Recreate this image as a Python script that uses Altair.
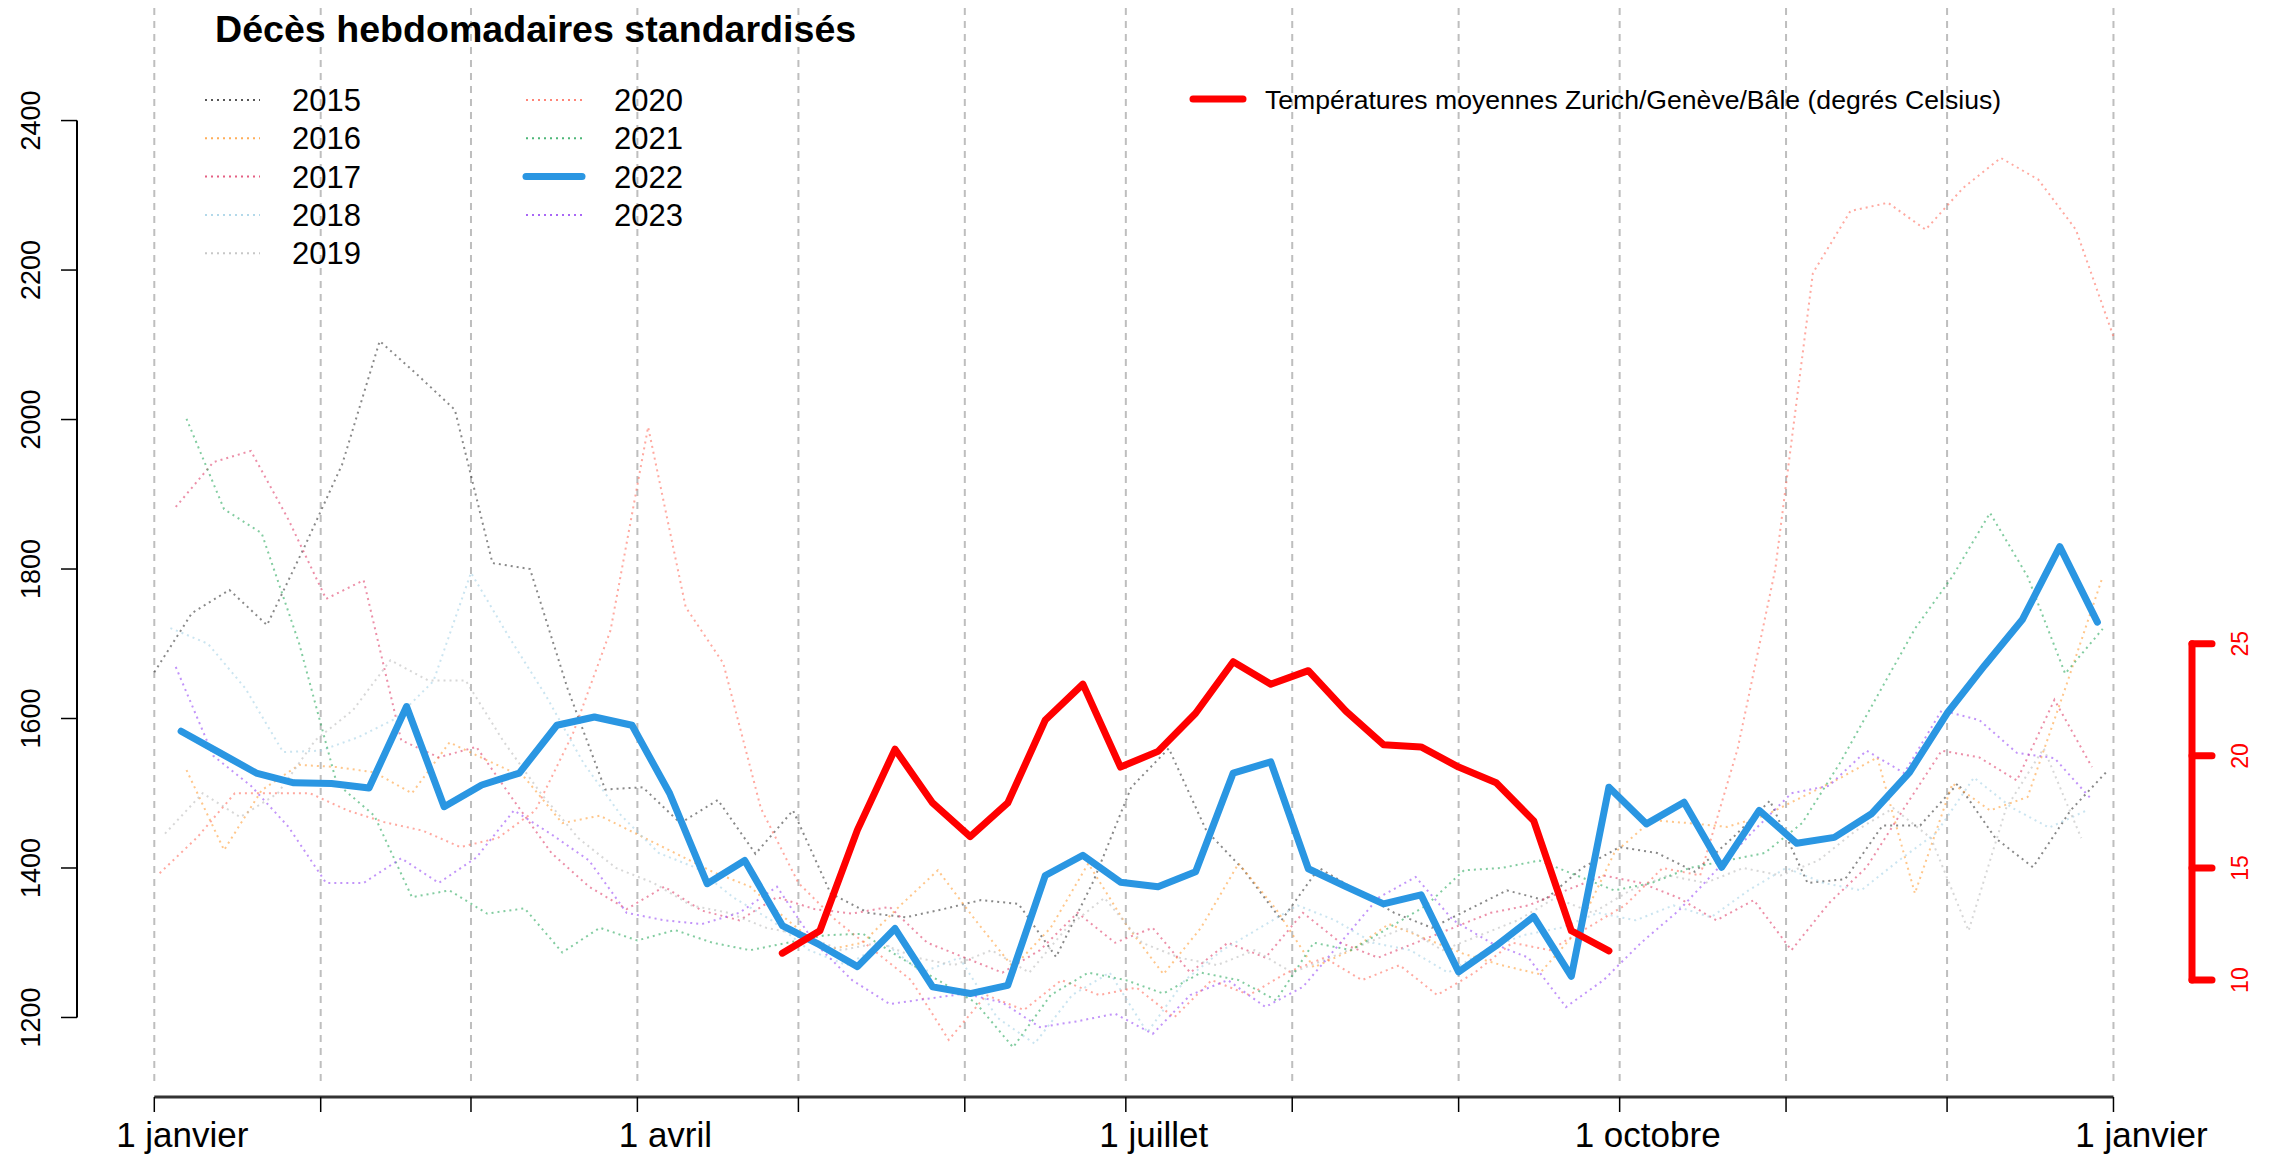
import altair as alt
import pandas as pd

FONT = "Liberation Sans"

# ---------------- data ----------------
YEARS = [2015, 2016, 2017, 2018, 2019, 2020, 2021, 2022, 2023]
FIRST_DAY = [0, 6, 4, 3, 2, 1, 6, 5, 4]          # day of year of week 1 (Thursday)
COLORS = ["#3a3a3a", "#ffa03c", "#e0456e", "#a6d2e6", "#bdbdbd",
          "#ff7060", "#2eaa60", "#2a96e2", "#9a4cf5"]

D2015 = [1662, 1741, 1772, 1725, 1830, 1940, 2105, 2060, 2013, 1808, 1800, 1640, 1505,
         1508, 1460, 1491, 1419, 1477, 1366, 1340, 1334, 1345, 1357, 1352, 1281, 1383,
         1508, 1560, 1450, 1397, 1330, 1400, 1370, 1340, 1320, 1345, 1370, 1357, 1400,
         1428, 1420, 1395, 1440, 1490, 1380, 1385, 1457, 1457, 1513, 1440, 1401, 1477, 1531]
D2016 = [1531, 1424, 1504, 1538, 1535, 1528, 1500, 1568, 1544, 1521, 1460, 1470, 1445,
         1420, 1395, 1375, 1330, 1290, 1300, 1350, 1397, 1330, 1267, 1320, 1406, 1325,
         1258, 1320, 1406, 1345, 1267, 1290, 1325, 1305, 1285, 1270, 1258, 1315, 1420,
         1464, 1460, 1455, 1470, 1495, 1520, 1548, 1366, 1513, 1477, 1495, 1640, 1790]
D2017 = [1883, 1943, 1958, 1866, 1760, 1785, 1571, 1548, 1562, 1490, 1420, 1375, 1345,
         1375, 1343, 1330, 1361, 1345, 1339, 1348, 1300, 1280, 1260, 1290, 1340, 1300,
         1320, 1260, 1300, 1280, 1340, 1300, 1280, 1300, 1320, 1340, 1350, 1370, 1390,
         1380, 1360, 1330, 1357, 1290, 1353, 1401, 1480, 1557, 1548, 1517, 1625, 1535]
D2018 = [1721, 1700, 1640, 1555, 1557, 1575, 1600, 1650, 1795, 1710, 1630, 1540, 1470,
         1420, 1400, 1360, 1330, 1290, 1270, 1300, 1260, 1280, 1200, 1165, 1230, 1260,
         1180, 1250, 1290, 1320, 1350, 1330, 1300, 1290, 1260, 1290, 1310, 1320, 1340,
         1330, 1350, 1334, 1370, 1400, 1380, 1370, 1410, 1447, 1521, 1481, 1454, 1477]
D2019 = [1446, 1500, 1468, 1500, 1571, 1611, 1678, 1651, 1651, 1570, 1500, 1440, 1400,
         1380, 1350, 1340, 1320, 1310, 1290, 1300, 1280, 1270, 1290, 1260, 1320, 1360,
         1300, 1280, 1270, 1290, 1260, 1280, 1300, 1320, 1290, 1310, 1330, 1360, 1340,
         1370, 1390, 1380, 1400, 1390, 1410, 1450, 1480, 1440, 1316, 1480, 1560, 1440]
D2020 = [1393, 1441, 1500, 1500, 1500, 1477, 1461, 1450, 1428, 1440, 1477, 1580, 1718,
         1990, 1749, 1674, 1480, 1380, 1330, 1290, 1250, 1170, 1230, 1210, 1250, 1230,
         1240, 1200, 1250, 1230, 1260, 1280, 1250, 1270, 1230, 1260, 1300, 1290, 1320,
         1350, 1400, 1390, 1560, 1800, 2196, 2279, 2290, 2254, 2310, 2350, 2321, 2254, 2111]
D2021 = [2001, 1880, 1848, 1700, 1513, 1470, 1361, 1370, 1339, 1346, 1287, 1320, 1303,
         1317, 1300, 1290, 1300, 1310, 1312, 1280, 1250, 1220, 1160, 1230, 1260, 1250,
         1232, 1260, 1250, 1223, 1300, 1290, 1320, 1350, 1397, 1400, 1410, 1390, 1370,
         1380, 1400, 1410, 1420, 1460, 1540, 1630, 1720, 1790, 1875, 1790, 1660, 1720]
D2022 = [1583, 1555, 1527, 1514, 1513, 1507, 1616, 1482, 1511, 1527, 1591, 1602, 1591,
         1500, 1379, 1410, 1323, 1297, 1268, 1319, 1241, 1232, 1243, 1390, 1417, 1381,
         1375, 1395, 1527, 1542, 1399, 1375, 1352, 1364, 1261, 1296, 1335, 1255, 1508,
         1459, 1488, 1401, 1477, 1433, 1441, 1473, 1528, 1607, 1671, 1732, 1830, 1729]
D2023 = [1669, 1550, 1510, 1455, 1380, 1380, 1413, 1380, 1414, 1477, 1445, 1410, 1340,
         1330, 1325, 1340, 1375, 1300, 1250, 1218, 1225, 1232, 1220, 1187, 1195, 1205,
         1178, 1230, 1250, 1214, 1241, 1300, 1360, 1388, 1330, 1300, 1280, 1214, 1250,
         1300, 1343, 1397, 1450, 1500, 1510, 1557, 1527, 1611, 1598, 1554, 1547, 1491]
DEATHS = [D2015, D2016, D2017, D2018, D2019, D2020, D2021, D2022, D2023]
HIGHLIGHT = "2022"

TEMP_FIRST_DAY = 117
TEMP_2022 = [11.2, 12.2, 16.7, 20.3, 17.9, 16.4, 17.9, 21.6, 23.2, 19.5, 20.2, 21.9,
             24.2, 23.2, 23.8, 22.0, 20.5, 20.4, 19.5, 18.8, 17.1, 12.2, 11.3]

MONTH_DAYS = [0, 31, 59, 90, 120, 151, 181, 212, 243, 273, 304, 334, 365]
X_LABEL_DAYS = [0, 90, 181, 273, 365]
X_LABELS = ["1 janvier", "1 avril", "1 juillet", "1 octobre", "1 janvier"]
Y_TICKS = [1200, 1400, 1600, 1800, 2000, 2200, 2400]
T_TICKS = [10, 15, 20, 25]

TITLE = "Décès hebdomadaires standardisés"
TEMP_LABEL = "Températures moyennes Zurich/Genève/Bâle (degrés Celsius)"

# ---------------- tables ----------------
rows = []
for year, first, color, vals in zip(YEARS, FIRST_DAY, COLORS, DEATHS):
    for k, v in enumerate(vals):
        rows.append({"year": str(year), "day": first + 7 * k, "deaths": v, "color": color})
df = pd.DataFrame(rows)
df_faint = df[df.year != HIGHLIGHT]
df_main = df[df.year == HIGHLIGHT]
df_temp = pd.DataFrame({"day": [TEMP_FIRST_DAY + 7 * i for i in range(len(TEMP_2022))],
                        "temp": TEMP_2022})
df_grid = pd.DataFrame({"day": MONTH_DAYS})
df_xlab = pd.DataFrame({"day": X_LABEL_DAYS, "label": X_LABELS})
df_yt = pd.DataFrame({"v": Y_TICKS})
df_tt = pd.DataFrame({"t": T_TICKS})
leg = pd.DataFrame({"year": [str(y) for y in YEARS], "color": COLORS,
                    "idx": list(range(len(YEARS)))})

# ---------------- geometry ----------------
W, H = 2115, 1089
X_DOM = [-14.40, 379.63]
Y_DOM = [1093.6, 2550.6]
T_A, T_B = 950.0, 30.0   # temperature axis aligned with deaths axis: d = A + B*t
T_DOM = [(Y_DOM[0] - T_A) / T_B, (Y_DOM[1] - T_A) / T_B]

xs = alt.Scale(domain=X_DOM, nice=False, zero=False)
ys = alt.Scale(domain=Y_DOM, nice=False, zero=False)
ts = alt.Scale(domain=T_DOM, nice=False, zero=False)

# ---------------- layers (deaths scale) ----------------
grid = alt.Chart(df_grid).mark_rule(color="#bebebe", strokeWidth=2, strokeDash=[7, 6]).encode(
    x=alt.X("day:Q", scale=xs, axis=None), y=alt.value(0), y2=alt.value(1074))

faint = alt.Chart(df_faint).mark_line(strokeWidth=2, strokeDash=[2, 4], opacity=0.6).encode(
    x=alt.X("day:Q", scale=xs, axis=None),
    y=alt.Y("deaths:Q", scale=ys, axis=None),
    color=alt.Color("color:N", scale=None),
    detail="year:N")

main = alt.Chart(df_main).mark_line(strokeWidth=7, color=COLORS[YEARS.index(2022)],
                                    strokeJoin="round", strokeCap="round").encode(
    x=alt.X("day:Q", scale=xs, axis=None),
    y=alt.Y("deaths:Q", scale=ys, axis=None))

# left axis (deaths)
left_rule = alt.Chart(pd.DataFrame({"lo": [min(Y_TICKS)], "hi": [max(Y_TICKS)]})).mark_rule(
    color="black", strokeWidth=2).encode(
    x=alt.value(0), y=alt.Y("lo:Q", scale=ys, axis=None), y2="hi:Q")
left_ticks = alt.Chart(df_yt).mark_rule(color="black", strokeWidth=1.5).encode(
    y=alt.Y("v:Q", scale=ys, axis=None), x=alt.value(-16), x2=alt.value(0))
left_labels = alt.Chart(df_yt).mark_text(angle=270, align="center", baseline="alphabetic",
                                         font=FONT, fontSize=27, color="black").encode(
    y=alt.Y("v:Q", scale=ys, axis=None), x=alt.value(-37), text=alt.Text("v:Q", format="d"))

# bottom axis (days)
x_rule = alt.Chart(pd.DataFrame({"lo": [MONTH_DAYS[0]], "hi": [MONTH_DAYS[-1]]})).mark_rule(
    color="#333333", strokeWidth=3).encode(
    x=alt.X("lo:Q", scale=xs, axis=None), x2="hi:Q", y=alt.value(H))
x_ticks = alt.Chart(df_grid).mark_rule(color="black", strokeWidth=1.5).encode(
    x=alt.X("day:Q", scale=xs, axis=None), y=alt.value(H), y2=alt.value(H + 15))
x_labels = alt.Chart(df_xlab).mark_text(align="center", baseline="alphabetic", font=FONT,
                                        fontSize=35, color="black", dx=28).encode(
    x=alt.X("day:Q", scale=xs, axis=None), y=alt.value(H + 50), text="label:N")

# legends
leg_base = alt.Chart(leg).transform_calculate(
    col="floor(datum.idx / 5)", row="datum.idx % 5"
).transform_calculate(
    lx1="datum.col == 0 ? 128 : 449",
    lx2="datum.col == 0 ? 183 : 505",
    tx="datum.col == 0 ? 215 : 537",
    ly="92 + 38.3 * datum.row")

leg_dots = leg_base.transform_filter(f"datum.year != '{HIGHLIGHT}'").mark_rule(
    strokeWidth=2, strokeDash=[2, 4], opacity=0.85).encode(
    x=alt.X("lx1:Q", scale=None, axis=None), x2="lx2:Q",
    y=alt.Y("ly:Q", scale=None, axis=None),
    color=alt.Color("color:N", scale=None))
leg_main = leg_base.transform_filter(f"datum.year == '{HIGHLIGHT}'").mark_rule(
    strokeWidth=7, strokeCap="round").encode(
    x=alt.X("lx1:Q", scale=None, axis=None), x2="lx2:Q",
    y=alt.Y("ly:Q", scale=None, axis=None),
    color=alt.Color("color:N", scale=None))
leg_text = leg_base.mark_text(align="left", baseline="alphabetic", dy=11, font=FONT,
                              fontSize=31, color="black").encode(
    x=alt.X("tx:Q", scale=None, axis=None), y=alt.Y("ly:Q", scale=None, axis=None),
    text="year:N")

tleg = pd.DataFrame({"label": [TEMP_LABEL]})
tleg_line = alt.Chart(tleg).mark_rule(color="#ff0000", strokeWidth=7, strokeCap="round").encode(
    x=alt.value(1116), x2=alt.value(1166), y=alt.value(91))
tleg_text = alt.Chart(tleg).mark_text(align="left", baseline="alphabetic", dy=9.5, font=FONT,
                                      fontSize=26.6, color="black").encode(
    x=alt.value(1188), y=alt.value(91), text="label:N")

title = alt.Chart(pd.DataFrame({"t": [TITLE]})).mark_text(
    align="left", baseline="alphabetic", font=FONT, fontSize=37.6, fontWeight="bold",
    color="black").encode(x=alt.value(138), y=alt.value(34), text="t:N")

deaths_group = alt.layer(grid, faint, main, left_rule, left_ticks, left_labels,
                         x_rule, x_ticks, x_labels,
                         leg_dots, leg_main, leg_text, tleg_line, tleg_text, title)

# ---------------- layers (temperature scale) ----------------
temp_line = alt.Chart(df_temp).mark_line(strokeWidth=7, color="#ff0000",
                                         strokeJoin="round", strokeCap="round").encode(
    x=alt.X("day:Q", scale=xs, axis=None),
    y=alt.Y("temp:Q", scale=ts, axis=None))
temp_rule = alt.Chart(pd.DataFrame({"lo": [min(T_TICKS)], "hi": [max(T_TICKS)]})).mark_rule(
    color="#ff0000", strokeWidth=7, strokeCap="round").encode(
    x=alt.value(W), y=alt.Y("lo:Q", scale=ts, axis=None), y2="hi:Q")
temp_ticks = alt.Chart(df_tt).mark_rule(color="#ff0000", strokeWidth=7, strokeCap="round").encode(
    y=alt.Y("t:Q", scale=ts, axis=None), x=alt.value(W), x2=alt.value(W + 20))
temp_labels = alt.Chart(df_tt).mark_text(angle=270, align="center", baseline="top",
                                         font=FONT, fontSize=23, color="#ff0000").encode(
    y=alt.Y("t:Q", scale=ts, axis=None), x=alt.value(W + 38), text=alt.Text("t:Q", format="d"))
temp_group = alt.layer(temp_line, temp_rule, temp_ticks, temp_labels)

chart = alt.layer(deaths_group, temp_group).resolve_scale(y="independent").properties(
    width=W, height=H,
    autosize=alt.AutoSizeParams(type="none"),
    padding={"left": 69, "top": 0, "right": 77, "bottom": 58},
    background="white",
).configure_view(stroke=None)

chart.save("out.html", embed_options={"renderer": "svg", "actions": False})
